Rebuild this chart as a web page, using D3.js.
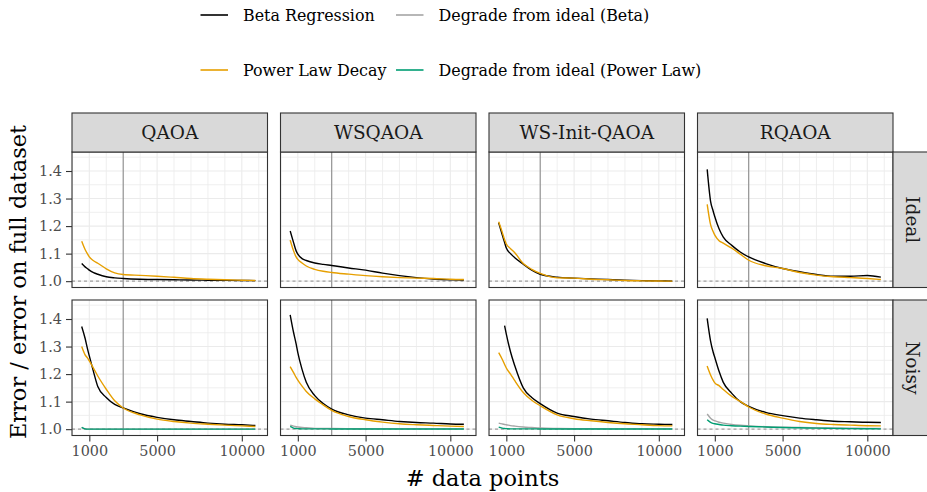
<!DOCTYPE html>
<html>
<head>
<meta charset="utf-8">
<script src="https://cdn.jsdelivr.net/npm/d3@7"></script>
<style>
  html, body { margin: 0; padding: 0; background: #ffffff; }
  svg { display: block; }
  text { font-family: "DejaVu Serif", serif; }
</style>
</head>
<body>
<svg id="chart" width="927" height="492"></svg>
<script>
// Facets
const methods = ["QAOA", "WSQAOA", "WS-Init-QAOA", "RQAOA"];
const settings = ["Ideal", "Noisy"];

// Dataset sizes the error ratio was evaluated at
const dataPoints = [550, 750, 900, 1000, 1250, 1500, 2000, 2500, 3000, 4000, 5000, 6000, 7000, 8000, 9000, 10000, 10800];

// Reference dataset size (vertical marker)
const cutoff = 3000;

// Axis ticks
const xTicks = [1000, 5000, 10000];
const yTicks = [1.0, 1.1, 1.2, 1.3, 1.4];

// Ideal simulations, one list per method (QAOA, WSQAOA, WS-Init-QAOA, RQAOA)
const betaIdeal = [
  [1.064, 1.052, 1.045, 1.040, 1.031, 1.025, 1.016, 1.012, 1.0097, 1.007, 1.006, 1.005, 1.004, 1.0035, 1.003, 1.0025, 1.002],
  [1.182, 1.140, 1.110, 1.098, 1.082, 1.075, 1.066, 1.061, 1.057, 1.048, 1.040, 1.029, 1.020, 1.013, 1.008, 1.005, 1.0036],
  [1.212, 1.170, 1.140, 1.120, 1.100, 1.085, 1.062, 1.040, 1.025, 1.0145, 1.011, 1.0085, 1.006, 1.0036, 1.002, 1.001, 1.000],
  [1.406, 1.290, 1.255, 1.234, 1.190, 1.160, 1.130, 1.106, 1.088, 1.064, 1.046, 1.034, 1.024, 1.018, 1.018, 1.0206, 1.0145]
];
const powerIdeal = [
  [1.145, 1.115, 1.098, 1.088, 1.074, 1.065, 1.045, 1.030, 1.024, 1.021, 1.018, 1.014, 1.0097, 1.007, 1.005, 1.0035, 1.0024],
  [1.149, 1.110, 1.088, 1.079, 1.066, 1.055, 1.043, 1.036, 1.0315, 1.0255, 1.020, 1.016, 1.013, 1.011, 1.0097, 1.007, 1.006],
  [1.216, 1.180, 1.150, 1.135, 1.118, 1.103, 1.064, 1.043, 1.028, 1.012, 1.011, 1.007, 1.005, 1.0024, 1.0012, 1.0005, 1.000],
  [1.279, 1.205, 1.180, 1.167, 1.147, 1.138, 1.120, 1.098, 1.076, 1.056, 1.046, 1.0315, 1.022, 1.016, 1.013, 1.0097, 1.006]
];

// Noisy simulations
const betaNoisy = [
  [1.373, 1.330, 1.290, 1.266, 1.208, 1.155, 1.115, 1.090, 1.077, 1.056, 1.043, 1.034, 1.028, 1.022, 1.018, 1.016, 1.0134],
  [1.415, 1.351, 1.310, 1.278, 1.217, 1.170, 1.122, 1.093, 1.073, 1.052, 1.040, 1.034, 1.028, 1.024, 1.022, 1.019, 1.018],
  [null, null, 1.3756, 1.345, 1.280, 1.230, 1.150, 1.115, 1.093, 1.0585, 1.046, 1.0366, 1.0305, 1.0244, 1.0195, 1.018, 1.017],
  [1.402, 1.320, 1.280, 1.260, 1.210, 1.170, 1.130, 1.100, 1.083, 1.061, 1.049, 1.040, 1.034, 1.029, 1.027, 1.025, 1.0244]
];
const powerNoisy = [
  [1.300, 1.270, 1.258, 1.2476, 1.221, 1.193, 1.145, 1.103, 1.077, 1.052, 1.0366, 1.028, 1.022, 1.018, 1.0146, 1.012, 1.0098],
  [1.227, 1.205, 1.188, 1.178, 1.156, 1.137, 1.110, 1.088, 1.068, 1.046, 1.034, 1.0256, 1.0195, 1.016, 1.0134, 1.011, 1.0098],
  [1.278, 1.255, 1.235, 1.222, 1.200, 1.176, 1.133, 1.105, 1.085, 1.052, 1.038, 1.0305, 1.0244, 1.0195, 1.016, 1.013, 1.012],
  [1.229, 1.197, 1.178, 1.168, 1.158, 1.144, 1.119, 1.101, 1.0805, 1.055, 1.040, 1.028, 1.0207, 1.017, 1.0146, 1.0125, 1.012]
];
const degradeBeta = [
  [1.006, 1.001, 1.000, 1.000, 1.000, 1.000, 1.000, 1.000, 1.000, 1.000, 1.000, 1.000, 1.000, 1.000, 1.000, 1.000, 1.000],
  [1.0146, 1.011, 1.009, 1.008, 1.006, 1.005, 1.003, 1.0025, 1.0024, 1.002, 1.0015, 1.0013, 1.0012, 1.001, 1.001, 1.001, 1.001],
  [1.022, 1.019, 1.017, 1.016, 1.013, 1.011, 1.008, 1.006, 1.004, 1.0024, 1.0015, 1.0013, 1.0012, 1.001, 1.001, 1.001, 1.001],
  [1.055, 1.040, 1.033, 1.0305, 1.025, 1.022, 1.017, 1.014, 1.012, 1.009, 1.0073, 1.006, 1.005, 1.004, 1.0035, 1.003, 1.0024]
];
const degradePower = [
  [1.007, 1.001, 1.000, 1.000, 1.000, 1.000, 1.000, 1.000, 1.000, 1.000, 1.000, 1.000, 1.000, 1.000, 1.000, 1.000, 1.000],
  [1.0098, 1.004, 1.0024, 1.002, 1.001, 1.001, 1.001, 1.001, 1.0008, 1.0006, 1.0006, 1.0006, 1.0006, 1.0006, 1.0006, 1.0006, 1.0006],
  [1.0073, 1.004, 1.0024, 1.002, 1.001, 1.001, 1.001, 1.001, 1.0008, 1.0006, 1.0006, 1.0006, 1.0006, 1.0006, 1.0006, 1.0006, 1.0006],
  [1.034, 1.0244, 1.021, 1.0195, 1.017, 1.0146, 1.0125, 1.011, 1.0098, 1.008, 1.006, 1.005, 1.0037, 1.003, 1.002, 1.0015, 1.0012]
];

// Series order = drawing order; legend entries
const seriesNames = ["Beta Regression", "Power Law Decay", "Degrade from ideal (Beta)", "Degrade from ideal (Power Law)"];
const seriesColors = ["#000000", "#E69F00", "#A6A6A6", "#009E73"];

// ---- layout ----
const svg = d3.select("#chart");
const panelW = 195.5, panelH = 135.5, gapX = 13, gapY = 12.5;
const left0 = 72, stripTop = 113, stripH = 39;
const rowTop = [stripTop + stripH, stripTop + stripH + panelH + gapY];
const colLeft = methods.map((_, i) => left0 + i * (panelW + gapX));

const x = d3.scaleLinear().domain([-22, 11516]).range([0, panelW]);
const y = d3.scaleLinear().domain([0.977, 1.469]).range([panelH, 0]);

const gridX = d3.range(0, 11001, 1000);
const gridY = d3.range(1.0, 1.4501, 0.05);

const line = d3.line()
  .defined(d => d[1] != null)
  .x(d => x(d[0]))
  .y(d => y(d[1]))
  .curve(d3.curveMonotoneX);

const defs = svg.append("defs");
defs.append("clipPath").attr("id", "panel-clip")
  .append("rect").attr("width", panelW).attr("height", panelH);

settings.forEach((setting, r) => {
  methods.forEach((method, c) => {
    const g = svg.append("g").attr("transform", `translate(${colLeft[c]},${rowTop[r]})`);
    g.append("rect").attr("width", panelW).attr("height", panelH).attr("fill", "#ffffff");

    // grid
    g.append("g").selectAll("line").data(gridX).join("line")
      .attr("x1", d => x(d)).attr("x2", d => x(d)).attr("y1", 0).attr("y2", panelH)
      .attr("stroke", "#EBEBEB").attr("stroke-width", d => (d % 5000 === 0 || d === 1000) ? 1.1 : 0.8);
    g.append("g").selectAll("line").data(gridY).join("line")
      .attr("x1", 0).attr("x2", panelW).attr("y1", d => y(d)).attr("y2", d => y(d))
      .attr("stroke", "#EBEBEB").attr("stroke-width", (d, i) => i % 2 === 0 ? 1.1 : 0.8);

    const clipped = g.append("g").attr("clip-path", "url(#panel-clip)");

    // reference markers
    clipped.append("line")
      .attr("x1", x(cutoff)).attr("x2", x(cutoff)).attr("y1", 0).attr("y2", panelH)
      .attr("stroke", "#8C8C8C").attr("stroke-width", 1.1);
    clipped.append("line")
      .attr("x1", 0).attr("x2", panelW).attr("y1", y(1.0)).attr("y2", y(1.0))
      .attr("stroke", "#A0A0A0").attr("stroke-width", 1.1).attr("stroke-dasharray", "3,3");

    const series = setting === "Ideal"
      ? [betaIdeal[c], powerIdeal[c]]
      : [betaNoisy[c], powerNoisy[c], degradeBeta[c], degradePower[c]];
    series.forEach((vals, s) => {
      clipped.append("path")
        .datum(dataPoints.map((dp, i) => [dp, vals[i]]))
        .attr("d", line)
        .attr("fill", "none")
        .attr("stroke", seriesColors[s])
        .attr("stroke-width", 1.4)
        .attr("stroke-linejoin", "round");
    });

    // panel border
    g.append("rect").attr("width", panelW).attr("height", panelH)
      .attr("fill", "none").attr("stroke", "#333333").attr("stroke-width", 1.1);

    // y axis on the first column
    if (c === 0) {
      const ya = g.append("g").call(d3.axisLeft(y).tickValues(yTicks).tickFormat(d3.format(".1f")).tickSize(6).tickPadding(4));
      ya.select(".domain").remove();
      ya.selectAll(".tick line").attr("stroke", "#333333").attr("stroke-width", 1.1);
      ya.selectAll(".tick text").attr("fill", "#4D4D4D").style("font-size", "14.4px").style("font-family", "DejaVu Serif");
    }
    // x axis on the bottom row
    if (r === settings.length - 1) {
      const xa = g.append("g").attr("transform", `translate(0,${panelH})`)
        .call(d3.axisBottom(x).tickValues(xTicks).tickFormat(d3.format("d")).tickSize(6).tickPadding(4));
      xa.select(".domain").remove();
      xa.selectAll(".tick line").attr("stroke", "#333333").attr("stroke-width", 1.1);
      xa.selectAll(".tick text").attr("fill", "#4D4D4D").style("font-size", "14.4px").style("font-family", "DejaVu Serif");
    }

    // top strips
    if (r === 0) {
      const s = svg.append("g").attr("transform", `translate(${colLeft[c]},${stripTop})`);
      s.append("rect").attr("width", panelW).attr("height", stripH)
        .attr("fill", "#D9D9D9").attr("stroke", "#333333").attr("stroke-width", 1.1);
      s.append("text").attr("x", panelW / 2).attr("y", stripH / 2).attr("dy", "0.35em")
        .attr("text-anchor", "middle").attr("fill", "#1A1A1A").style("font-size", "18.5px").text(method);
    }
  });

  // right strips
  const rs = svg.append("g").attr("transform", `translate(${colLeft[3] + panelW},${rowTop[r]})`);
  rs.append("rect").attr("width", stripH).attr("height", panelH)
    .attr("fill", "#D9D9D9").attr("stroke", "#333333").attr("stroke-width", 1.1);
  rs.append("text")
    .attr("transform", `translate(${stripH / 2},${panelH / 2}) rotate(90)`)
    .attr("dy", "0.35em").attr("text-anchor", "middle").attr("fill", "#1A1A1A")
    .style("font-size", "18.5px").text(setting);
});

// axis titles
svg.append("text")
  .attr("x", (colLeft[0] + colLeft[3] + panelW) / 2).attr("y", 485.5)
  .attr("text-anchor", "middle").attr("fill", "#000000").style("font-size", "22.5px")
  .text("# data points");
svg.append("text")
  .attr("transform", `translate(26,282) rotate(-90)`)
  .attr("text-anchor", "middle").attr("fill", "#000000").style("font-size", "22.5px")
  .text("Error / error on full dataset");

// legend: two rows, filled column-wise
const legendCols = [200.5, 396];
const legendRows = [15, 70];
seriesNames.forEach((name, i) => {
  const col = Math.floor(i / 2), row = i % 2;
  const lg = svg.append("g").attr("transform", `translate(${legendCols[col]},${legendRows[row]})`);
  lg.append("line").attr("x1", 0).attr("x2", 27.5).attr("y1", 0).attr("y2", 0)
    .attr("stroke", seriesColors[i]).attr("stroke-width", 1.6);
  lg.append("text").attr("x", 42.5).attr("y", 0).attr("dy", "0.35em")
    .attr("fill", "#000000").style("font-size", "15.9px").text(name);
});
</script>
</body>
</html>
